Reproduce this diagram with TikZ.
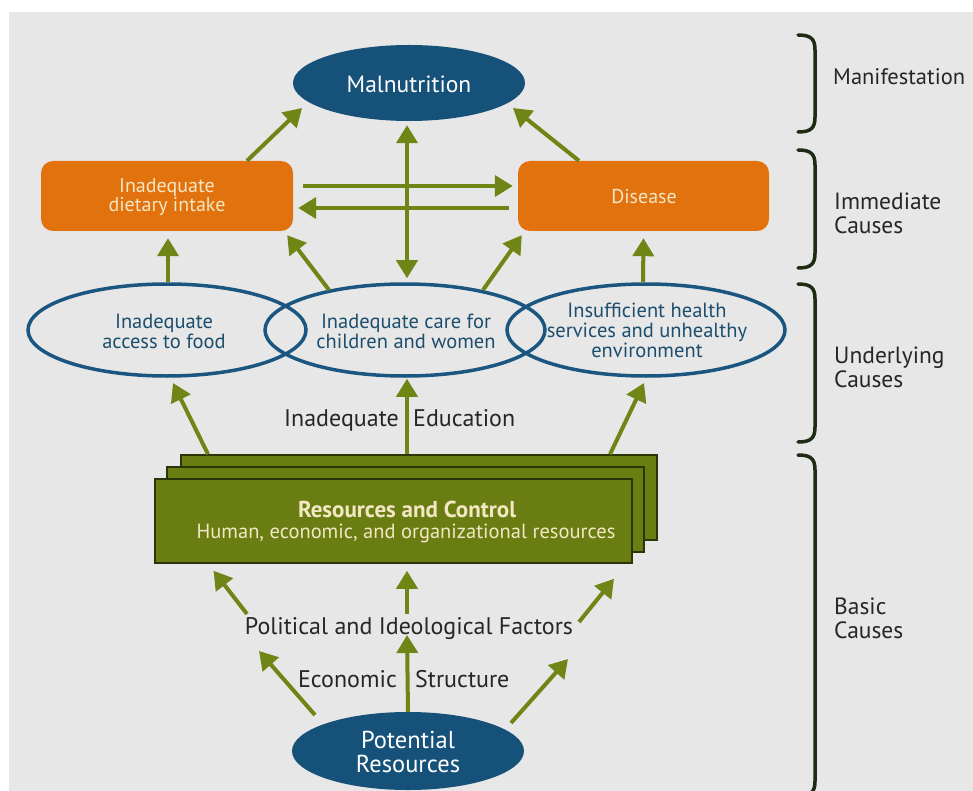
\documentclass[tikz,border=0pt]{standalone}
\usepackage{fontspec}
\setmainfont{PT Sans}
\usetikzlibrary{arrows.meta,shapes.geometric}
\definecolor{bggray}{HTML}{E7E7E7}
\definecolor{navy}{HTML}{155179}
\definecolor{ringblue}{HTML}{1B5680}
\definecolor{orangebox}{HTML}{E2720E}
\definecolor{olive}{HTML}{6F8516}
\definecolor{olivebox}{HTML}{6A7D12}
\definecolor{oliveedge}{HTML}{2B3608}
\definecolor{bracket}{HTML}{1F2B12}
\definecolor{darktext}{HTML}{262626}
\definecolor{ringtext}{HTML}{1D4E6E}
\definecolor{cream}{HTML}{F3E7C4}
\tikzset{
  arr/.style={draw=olive, line width=4pt, -{Triangle[width=21pt,length=18pt]}},
  dblarr/.style={draw=olive, line width=4pt, {Triangle[width=21pt,length=18pt]}-{Triangle[width=21pt,length=18pt]}},
  blueoval/.style={ellipse, fill=navy, inner sep=0pt},
  orangebox/.style={rectangle, rounded corners=12pt, fill=orangebox, inner sep=0pt},
  ring/.style={ellipse, draw=ringblue, line width=3.5pt, inner sep=0pt},
  ovaltext/.style={text=white, font=\fontsize{24.5}{24}\selectfont, align=center, anchor=base, inner sep=0pt},
  boxtext/.style={text=cream, font=\fontsize{20}{19.5}\selectfont, align=center, anchor=base, inner sep=0pt},
  ringtext/.style={text=ringtext, font=\fontsize{20.5}{19.5}\selectfont, align=center, anchor=base, inner sep=0pt},
  resbox/.style={rectangle, fill=olivebox, draw=oliveedge, line width=1.5pt, inner sep=0pt},
  midlabel/.style={text=darktext, font=\fontsize{24}{25}\selectfont, inner sep=0pt},
  sidelabel/.style={text=darktext, font=\fontsize{23.5}{24}\selectfont, inner sep=0pt, align=left, anchor=base west},
  brace/.style={draw=bracket, line width=3.5pt, line cap=round},
}
\begin{document}
\begin{tikzpicture}[x=1pt,y=-1pt]
% canvas
\useasboundingbox (0,0) rectangle (973,791);
\fill[white] (0,0) rectangle (973,791);
\fill[bggray] (9,12) rectangle (973,791);

% manifestation
\node[blueoval, minimum width=232pt, minimum height=76pt] (mal) at (409,83) {};
\node[ovaltext, font=\fontsize{23.5}{24}\selectfont] (maltxt) at (409,93) {Malnutrition};

% immediate causes
\node[orangebox, minimum width=252pt, minimum height=70pt] (diet) at (167,196) {};
\node[boxtext] (diettxt) at (167,212) {Inadequate\\dietary intake};
\node[orangebox, minimum width=251pt, minimum height=70pt] (dis) at (643.5,196) {};
\node[boxtext] (distxt) at (644,204) {Disease};

% underlying causes
\node[ring, minimum width=278pt, minimum height=92pt] (acc) at (167,330) {};
\node[ring, minimum width=280pt, minimum height=92pt] (care) at (405,330) {};
\node[ring, minimum width=278pt, minimum height=92pt] (hlth) at (646,330) {};
\node[ringtext] (acctxt) at (164,348) {Inadequate\\access to food};
\node[ringtext] (caretxt) at (406,348) {Inadequate care for\\children and women};
\node[ringtext, font=\fontsize{20.5}{20}\selectfont] (hlthtxt) at (647,357) {Insufficient health\\services and unhealthy\\environment};

% basic causes: stacked resource cards
\node[resbox, minimum width=476pt, minimum height=85pt] (res3) at (419,497.5) {};
\node[resbox, minimum width=477pt, minimum height=85pt] (res2) at (405.5,509.5) {};
\node[resbox, minimum width=477pt, minimum height=84pt] (res) at (393.5,521) {};
\node[boxtext, font=\fontsize{23}{21}\selectfont\bfseries] (restitle) at (407,517) {Resources and Control};
\node[boxtext, font=\fontsize{20.5}{21}\selectfont] (ressub) at (406,538) {Human, economic, and organizational resources};

\node[blueoval, minimum width=232pt, minimum height=78pt] (pot) at (408,751) {};
\node[ovaltext] (pottxt) at (408,772) {Potential\\Resources};

% labels between arrows
\node[midlabel, anchor=base east] (edu1) at (399,426) {Inadequate};
\node[midlabel, anchor=base west] (edu2) at (413,426) {Education};
\node[midlabel, anchor=base] (pol) at (409,634) {Political and Ideological Factors};
\node[midlabel, anchor=base east] (eco1) at (397,687) {Economic};
\node[midlabel, anchor=base west] (eco2) at (415,687) {Structure};

% arrows into malnutrition
\draw[arr] ([shift={(80,0)}]diet.north) -- ([shift={(-107,25)}]mal.center);
\draw[arr] ([shift={(-64.5,0)}]dis.north) -- ([shift={(104,25)}]mal.center);
\draw[dblarr] ([shift={(-2,4)}]mal.south) -- ([shift={(2,-4)}]care.north);

% diet <-> disease
\draw[arr] ([shift={(10,-10)}]diet.east) -- ([shift={(-5,-10)}]dis.west);
\draw[arr] ([shift={(-9,12)}]dis.west) -- ([shift={(5,12)}]diet.east);

% underlying -> immediate
\draw[arr] ([shift={(1,0)}]acc.north) -- ([shift={(1,7)}]diet.south);
\draw[arr] ([shift={(-76,-40)}]care.center) -- ([shift={(-6,4)}]diet.south east);
\draw[arr] ([shift={(78,-40)}]care.center) -- ([shift={(4,4)}]dis.south west);
\draw[arr] ([shift={(-3,0)}]hlth.north) -- ([shift={(0,7)}]dis.south);

% resources -> underlying
\draw[arr] ([shift={(-211,0)}]res3.north) -- ([shift={(6,53)}]acc.center);
\draw[arr] ([shift={(-12,0)}]res3.north) -- ([shift={(2,1)}]care.south);
\draw[arr] ([shift={(191,0)}]res3.north) -- ([shift={(-2,53)}]hlth.center);

% political factors -> resources
\draw[arr] ([shift={(-162,-20)}]pol.base) -- ([shift={(-180,7)}]res.south);
\draw[arr] ([shift={(-2,-20)}]pol.base) -- ([shift={(13.5,7)}]res.south);
\draw[arr] ([shift={(170,-12)}]pol.base) -- ([shift={(220.5,15)}]res.south);

% potential resources -> above
\draw[arr] ([shift={(-93,-36)}]pot.center) -- ([shift={(-150,17)}]pol.base);
\draw[arr] (pot.north) -- ([shift={(-2,1)}]pol.base);
\draw[arr] ([shift={(103,-28)}]pot.center) -- ([shift={(159,25)}]pol.base);

% level brackets
\coordinate (b1t) at (798,35);  \coordinate (b1b) at (798,132);
\coordinate (b2t) at (798,150); \coordinate (b2b) at (798,268);
\coordinate (b3t) at (798,284); \coordinate (b3b) at (798,442);
\coordinate (b4t) at (798,455); \coordinate (b4b) at (798,796);
\foreach \t/\b in {b1t/b1b,b2t/b2b,b3t/b3b,b4t/b4b}{
  \draw[brace] (\t) .. controls ([shift={(13,0)}]\t) and ([shift={(17,4)}]\t) .. ([shift={(17,15)}]\t)
    -- ([shift={(17,-15)}]\b) .. controls ([shift={(17,-4)}]\b) and ([shift={(13,0)}]\b) .. (\b);
}
\node[sidelabel, font=\fontsize{22.5}{24}\selectfont] (lman) at (833,85) {Manifestation};
\node[sidelabel] (limm) at (834,234) {Immediate\\Causes};
\node[sidelabel] (lund) at (834,387) {Underlying\\Causes};
\node[sidelabel] (lbas) at (834,638) {Basic\\Causes};
\end{tikzpicture}
\end{document}
